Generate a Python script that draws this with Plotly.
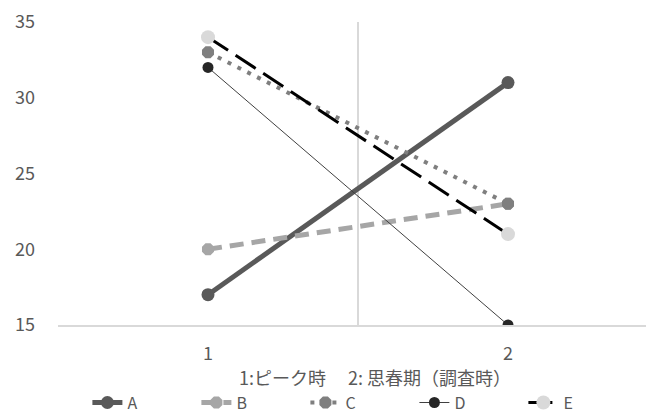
import plotly.graph_objects as go

# Data: two time points for five subjects
x_points = [1, 2]
series_names = ["A", "B", "C", "D", "E"]
values_A = [17, 31]
values_B = [20, 23]
values_C = [33, 23]
values_D = [32, 15]
values_E = [34, 21]
y_ticks = [15, 20, 25, 30, 35]
x_title = "1:ピーク時　 2: 思春期（調査時）"

series_values = [values_A, values_B, values_C, values_D, values_E]

styles = [
    dict(line=dict(color="#595959", width=5, dash="solid"),
         marker=dict(symbol="circle", size=13, color="#595959")),
    dict(line=dict(color="#A6A6A6", width=5, dash="14px,8px"),
         marker=dict(symbol="octagon", size=13, color="#A6A6A6")),
    dict(line=dict(color="#7F7F7F", width=4, dash="4px,7px"),
         marker=dict(symbol="octagon", size=13, color="#7F7F7F")),
    dict(line=dict(color="#404040", width=1, dash="solid"),
         marker=dict(symbol="circle", size=11, color="#262626")),
    dict(line=dict(color="#000000", width=3, dash="24px,9px"),
         marker=dict(symbol="circle", size=14, color="#D9D9D9")),
]

fig = go.Figure()
for name, vals, st in zip(series_names, series_values, styles):
    fig.add_trace(go.Scatter(
        x=x_points, y=vals, name=name, mode="lines+markers",
        line=st["line"], marker=st["marker"],
    ))

fig.update_layout(
    width=646, height=413,
    margin=dict(l=58, r=0, t=22, b=88, autoexpand=False),
    plot_bgcolor="white", paper_bgcolor="white",
    font=dict(family="Noto Sans CJK JP, Noto Sans, sans-serif", color="#595959"),
    showlegend=True,
    legend=dict(
        orientation="h", x=0.05, xanchor="left", y=-0.2, yanchor="top",
        entrywidth=64, entrywidthmode="pixels",
        font=dict(size=16, color="#595959"),
        traceorder="normal",
    ),
    annotations=[dict(
        text=x_title, xref="paper", yref="paper",
        x=0.539, y=-0.172, xanchor="center", yanchor="middle",
        showarrow=False, font=dict(size=18, color="#595959"),
    )],
)

fig.update_xaxes(
    range=[0.5, 2.46], tickvals=x_points, ticktext=[str(v) for v in x_points],
    showgrid=False, zeroline=False,
    showline=True, linecolor="#D9D9D9", linewidth=1.5,
    ticks="", tickfont=dict(size=18, color="#595959"), ticklabelstandoff=12,
    minor=dict(tick0=0.5, dtick=1, showgrid=True, gridcolor="#D9D9D9", gridwidth=1.5),
)
fig.update_yaxes(
    range=[15, 35], tickvals=y_ticks, showgrid=False, zeroline=False,
    showline=False, ticks="", tickfont=dict(size=18, color="#595959"),
    ticklabelstandoff=22,
)

fig.write_html("out.html")
